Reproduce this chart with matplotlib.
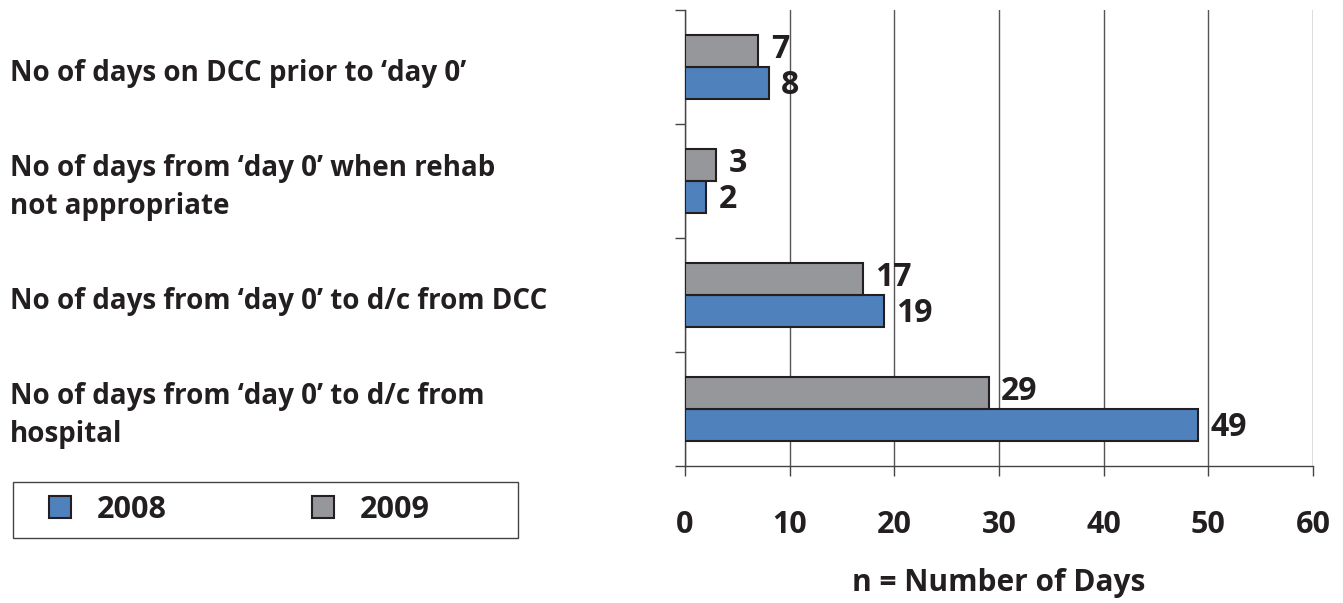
import matplotlib
matplotlib.use("Agg")
import matplotlib.pyplot as plt
import matplotlib.transforms as mtransforms
from matplotlib.patches import Patch, Rectangle
import numpy as np

categories = [
    "No of days on DCC prior to \u2018day 0\u2019",
    "No of days from \u2018day 0\u2019 when rehab\nnot appropriate",
    "No of days from \u2018day 0\u2019 to d/c from DCC",
    "No of days from \u2018day 0\u2019 to d/c from\nhospital",
]
values_2008 = [8, 2, 19, 49]
values_2009 = [7, 3, 17, 29]
series_names = ["2008", "2009"]
x_ticks = [0, 10, 20, 30, 40, 50, 60]

BLUE = "#4F81BD"
GRAY = "#96979B"
EDGE = "#231F20"
TXT = "#231F20"

plt.rcParams["font.family"] = ["Open Sans", "DejaVu Sans"]
plt.rcParams["font.weight"] = "bold"

fig = plt.figure(figsize=(13.43, 6.03), dpi=100)
ax = fig.add_axes([0.510, 0.2272, 0.4677, 0.7562])

y = np.arange(len(categories))
h = 0.28
b08 = ax.barh(y + h / 2, values_2008, height=h, color=BLUE, edgecolor=EDGE, linewidth=1.5, zorder=3)
b09 = ax.barh(y - h / 2, values_2009, height=h, color=GRAY, edgecolor=EDGE, linewidth=1.5, zorder=3)

for bars, vals, dy in ((b08, values_2008, -2), (b09, values_2009, 1)):
    for bar, v in zip(bars, vals):
        ax.annotate(str(v), (v, bar.get_y() + bar.get_height() / 2),
                    xytext=(9, dy), textcoords="offset points",
                    ha="left", va="center", fontsize=23, fontweight="bold", color=TXT, zorder=4)

ax.set_xlim(0, 60)
ax.set_ylim(len(categories) - 0.5, -0.5)
ax.set_xticks(x_ticks)
ax.set_xticklabels([str(t) for t in x_ticks], fontsize=22, fontweight="bold", color=TXT)
ax.set_yticks(np.arange(len(categories) + 1) - 0.5)
ax.set_yticklabels([])
ax.tick_params(axis="x", direction="out", length=7, width=1, color="#444444", pad=25)
ax.tick_params(axis="y", direction="out", length=7, width=1, color="#444444")
ax.grid(axis="x", color="#555555", linewidth=1, zorder=0)
for s in ("top", "right"):
    ax.spines[s].set_visible(False)
for s in ("left", "bottom"):
    ax.spines[s].set_color("#444444")
    ax.spines[s].set_linewidth(1)

ax.set_xlabel("n = Number of Days", fontsize=21.5, fontweight="bold", color=TXT, labelpad=20)

trans = mtransforms.blended_transform_factory(fig.transFigure, ax.transData)
for yi, lab in zip(y, categories):
    fig.text(10 / 1343, yi + 0.06, lab, transform=trans, ha="left", va="center",
             fontsize=20, fontweight="bold", color=TXT, linespacing=1.4)

# legend frame
fig.add_artist(Rectangle((13 / 1343, 1 - 538 / 603), 505 / 1343, 56 / 603,
                         transform=fig.transFigure, facecolor="white",
                         edgecolor="#444444", linewidth=1))
handles = [Patch(facecolor=BLUE, edgecolor=EDGE, linewidth=1.5),
           Patch(facecolor=GRAY, edgecolor=EDGE, linewidth=1.5)]
leg = fig.legend(handles, series_names, loc="center left",
                 bbox_to_anchor=(49 / 1343, 1 - 510 / 603),
                 ncol=2, frameon=False,
                 prop={"size": 22, "weight": "bold"}, handlelength=0.72, handleheight=0.72,
                 handletextpad=0.85, columnspacing=4.75, borderaxespad=0, borderpad=0)
for t in leg.get_texts():
    t.set_color(TXT)

fig.savefig("out.png", dpi=100)
